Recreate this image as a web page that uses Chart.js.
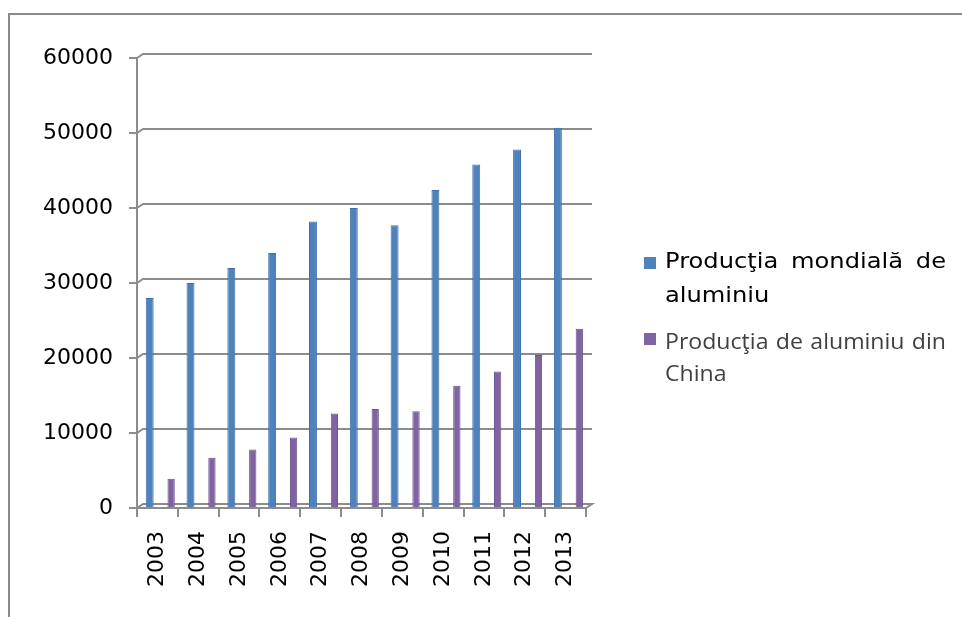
<!DOCTYPE html>
<html>
<head>
<meta charset="utf-8">
<script src="https://cdn.jsdelivr.net/npm/chart.js@4/dist/chart.umd.min.js"></script>
<style>
  body { margin: 0; background: #fff; }
  #wrap { position: relative; width: 962px; height: 617px; overflow: hidden; }
  #frame { position: absolute; left: 8px; top: 13px; width: 960px; height: 610px;
           border-left: 2px solid #8a8a8a; border-top: 2px solid #8a8a8a; }
  canvas { position: absolute; left: 0; top: 0; }
  .leg { position: absolute; left: 644px; }
  .leg .box { position: absolute; left: 0; width: 12px; height: 12px; }
  .leg .txt { position: absolute; left: 21px; text-align: justify; transform-origin: 0 0; }
</style>
</head>
<body>
<div id="wrap">
  <div id="frame"></div>
  <canvas id="chart" width="962" height="617"></canvas>
  <div id="legend"></div>
</div>
<script>
// years on the x axis
const years = ['2003', '2004', '2005', '2006', '2007', '2008', '2009', '2010', '2011', '2012', '2013'];
// world aluminium production
const worldProduction = [28000, 30000, 32000, 34000, 38200, 40000, 37700, 42400, 45800, 47800, 50700];
// aluminium production in China
const chinaProduction = [3900, 6700, 7800, 9400, 12600, 13200, 12900, 16300, 18200, 20400, 23900];
const seriesNames = ['Producţia mondială de aluminiu', 'Producţia de aluminiu din China'];
const seriesColors = ['#4f81bd', '#8064a2'];
const seriesEdges = ['#3f6fa6', '#6a5090'];
const yTicks = [0, 10000, 20000, 30000, 40000, 50000, 60000];

const gridColor = '#8c8c8c';

// Excel-style back wall: gridlines pushed back with a little diagonal at the axis
const backWall = {
    id: 'backWall',
    beforeDatasetsDraw(chart) {
        const { ctx, chartArea, scales: { y } } = chart;
        ctx.save();
        ctx.strokeStyle = gridColor;
        ctx.lineWidth = 2;
        yTicks.forEach(v => {
            const py = y.getPixelForValue(v);
            ctx.beginPath();
            ctx.moveTo(chartArea.left, py);
            ctx.lineTo(chartArea.left + 6, py - 4);
            ctx.lineTo(chartArea.right + 6, py - 4);
            if (v === 0) ctx.lineTo(chartArea.right, py);
            ctx.stroke();
        });
        ctx.restore();
        // bars stand a bit into the depth
        ctx.save();
        ctx.translate(3, 0);
    },
    afterDatasetsDraw(chart) {
        chart.ctx.restore();
    }
};

new Chart(document.getElementById('chart'), {
    type: 'bar',
    data: {
        labels: years,
        datasets: [
            { label: seriesNames[0], data: worldProduction, backgroundColor: seriesColors[0],
              borderColor: seriesEdges[0], borderWidth: 1,
              categoryPercentage: 1.05, barPercentage: 0.37 },
            { label: seriesNames[1], data: chinaProduction, backgroundColor: seriesColors[1],
              borderColor: seriesEdges[1], borderWidth: 1,
              categoryPercentage: 1.05, barPercentage: 0.34 }
        ]
    },
    options: {
        responsive: false,
        animation: false,
        layout: { padding: { left: 0, top: 58, right: 376, bottom: 0 } },
        plugins: { legend: { display: false }, tooltip: { enabled: false } },
        scales: {
            x: {
                afterFit(scale) { scale.height = 109; },
                grid: { drawOnChartArea: false, color: gridColor, lineWidth: 2, tickLength: 9 },
                border: { color: gridColor, width: 2 },
                ticks: {
                    minRotation: 90, maxRotation: 90, padding: 14,
                    color: '#000', font: { family: 'DejaVu Sans', size: 22 }
                }
            },
            y: {
                min: 0, max: 60000,
                afterFit(scale) { scale.width = 137; },
                afterBuildTicks(scale) { scale.ticks = yTicks.map(v => ({ value: v })); },
                grid: { drawOnChartArea: false, color: gridColor, lineWidth: 2, tickLength: 8 },
                border: { color: gridColor, width: 2 },
                ticks: {
                    padding: 16, color: '#000',
                    font: { family: 'DejaVu Sans', size: 22 },
                    callback: v => String(v)
                }
            }
        }
    },
    plugins: [backWall]
});

// legend built from the series names and colours
const legend = document.getElementById('legend');
const legendStyles = [
    { top: 244, box: 13, family: 'DejaVu Sans', size: 21, color: '#000', lh: 34, stretch: 1.15 },
    { top: 325, box: 8, family: 'Open Sans', size: 21, color: '#404040', lh: 32, stretch: 1.1 }
];
seriesNames.forEach((name, i) => {
    const s = legendStyles[i];
    const item = document.createElement('div');
    item.className = 'leg';
    item.style.top = s.top + 'px';
    const box = document.createElement('div');
    box.className = 'box';
    box.style.top = s.box + 'px';
    box.style.background = seriesColors[i];
    const txt = document.createElement('div');
    txt.className = 'txt';
    txt.style.fontFamily = s.family;
    txt.style.fontSize = s.size + 'px';
    txt.style.lineHeight = s.lh + 'px';
    txt.style.color = s.color;
    txt.style.width = (281 / s.stretch) + 'px';
    txt.style.transform = 'scaleX(' + s.stretch + ')';
    txt.textContent = name;
    item.appendChild(box);
    item.appendChild(txt);
    legend.appendChild(item);
});
</script>
</body>
</html>
